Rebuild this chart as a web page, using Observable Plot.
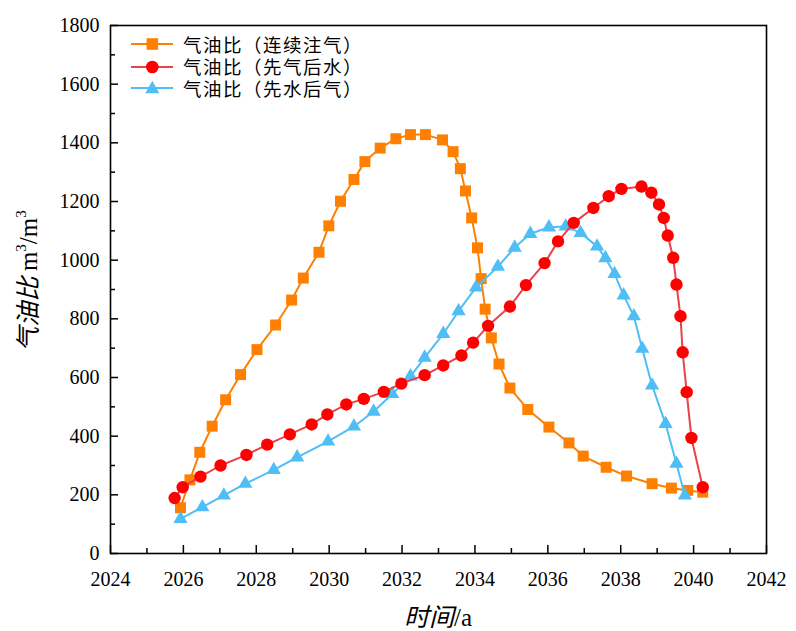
<!DOCTYPE html>
<html><head><meta charset="utf-8">
<script src="https://cdn.jsdelivr.net/npm/d3@7"></script>
<script src="https://cdn.jsdelivr.net/npm/@observablehq/plot@0.6"></script>
<style>
body{margin:0;background:#fff;}
#wrap{position:relative;width:796px;height:631px;overflow:hidden;}
.lab{position:absolute;white-space:nowrap;font-family:"Noto Sans CJK SC",sans-serif;color:#000;line-height:1;}
.lab .lat{font-family:"Liberation Serif",serif;}
.lab sup{font-size:0.6em;vertical-align:0.7em;line-height:0;}
.leg{position:absolute;left:131px;display:flex;align-items:center;height:20px;font-family:"Noto Sans CJK SC",sans-serif;font-size:18.5px;line-height:1;color:#000;white-space:nowrap;}
.leg span{letter-spacing:1.5px;line-height:1;}
.leg svg{margin-right:10px;}
</style></head><body><div id="wrap"></div>
<script>
// ---- data ----
const seriesNames = ["气油比（连续注气）", "气油比（先气后水）", "气油比（先水后气）"];
const seriesColors = ["#FF8000", "#FF0000", "#4FBEF5"];
const lineColors = ["#FF8000", "#E8424A", "#4FBEF5"];

const yearsA = [2025.92,2026.18,2026.45,2026.79,2027.16,2027.57,2028.02,2028.53,2028.97,2029.29,2029.72,2029.99,2030.31,2030.68,2030.98,2031.40,2031.83,2032.23,2032.64,2033.11,2033.40,2033.60,2033.74,2033.91,2034.07,2034.17,2034.28,2034.45,2034.66,2034.96,2035.45,2036.03,2036.58,2036.97,2037.60,2038.16,2038.86,2039.39,2039.84,2040.25];
const gorA = [156,251,345,434,524,610,695,779,864,939,1027,1117,1201,1275,1336,1382,1414,1428,1428,1410,1370,1312,1236,1144,1042,937,833,735,646,564,491,431,377,332,294,264,238,223,215,209];

const yearsB = [2025.76,2025.98,2026.47,2027.02,2027.73,2028.30,2028.92,2029.52,2029.95,2030.47,2030.95,2031.50,2031.98,2032.62,2033.13,2033.63,2033.95,2034.36,2034.96,2035.40,2035.91,2036.28,2036.71,2037.25,2037.67,2038.02,2038.57,2038.84,2039.05,2039.18,2039.29,2039.44,2039.53,2039.64,2039.70,2039.81,2039.94,2040.25];
const gorB = [189,226,262,300,336,371,406,440,474,508,527,551,579,608,641,675,719,776,842,915,990,1064,1127,1178,1218,1243,1251,1230,1190,1144,1084,1008,917,809,686,550,394,226];

const yearsC = [2025.92,2026.52,2027.11,2027.70,2028.48,2029.12,2029.97,2030.68,2031.22,2031.73,2032.23,2032.62,2033.13,2033.55,2034.03,2034.63,2035.09,2035.52,2036.03,2036.49,2036.90,2037.35,2037.58,2037.83,2038.08,2038.36,2038.59,2038.86,2039.23,2039.53,2039.76];
const gorC = [118,158,198,238,285,328,382,433,484,544,604,668,749,826,907,978,1043,1090,1112,1115,1093,1047,1007,953,880,809,698,573,442,306,198];

const xTicks = [2024,2026,2028,2030,2032,2034,2036,2038,2040,2042];
const xMinor = [2025,2027,2029,2031,2033,2035,2037,2039,2041];
const yTicks = [0,200,400,600,800,1000,1200,1400,1600,1800];
const yMinor = [100,300,500,700,900,1100,1300,1500,1700];

const rows = (xs, ys) => xs.map((x, i) => ({year: x, gor: ys[i]}));
const dataA = rows(yearsA, gorA), dataB = rows(yearsB, gorB), dataC = rows(yearsC, gorC);

const plot = Plot.plot({
  width: 796, height: 631,
  marginLeft: 110, marginRight: 30, marginTop: 25, marginBottom: 78,
  x: {domain: [2024, 2042]},
  y: {domain: [0, 1800]},
  style: {fontFamily: "'Liberation Serif', serif", fontSize: "20px", color: "black", background: "white"},
  marks: [
    Plot.axisX({ticks: xTicks, tickSize: 8, dy: -8, tickFormat: () => "", label: null, strokeWidth: 1.5}),
    Plot.axisX({ticks: xMinor, tickSize: 5, dy: -5, tickFormat: () => "", label: null, strokeWidth: 1.5}),
    Plot.axisX({ticks: xTicks, tickSize: 0, tickPadding: 18, tickFormat: d => String(d), label: null, fontSize: 20}),
    Plot.axisY({ticks: yTicks, tickSize: 8, dx: 8, tickFormat: () => "", label: null, strokeWidth: 1.5}),
    Plot.axisY({ticks: yMinor, tickSize: 5, dx: 5, tickFormat: () => "", label: null, strokeWidth: 1.5}),
    Plot.axisY({ticks: yTicks, tickSize: 0, tickPadding: 11, tickFormat: d => String(d), label: null, fontSize: 20}),
    Plot.frame({stroke: "black", strokeWidth: 1.6}),
    Plot.line(dataA, {x: "year", y: "gor", stroke: lineColors[0], strokeWidth: 2}),
    Plot.dot(dataA, {x: "year", y: "gor", symbol: "square", r: 6.2, fill: seriesColors[0], stroke: "none"}),
    Plot.line(dataC, {x: "year", y: "gor", stroke: lineColors[2], strokeWidth: 2}),
    Plot.dot(dataC, {x: "year", y: "gor", symbol: "triangle", r: 5.3, fill: seriesColors[2], stroke: "none"}),
    Plot.line(dataB, {x: "year", y: "gor", stroke: lineColors[1], strokeWidth: 2}),
    Plot.dot(dataB, {x: "year", y: "gor", symbol: "circle", r: 6.2, fill: seriesColors[1], stroke: "none"})
  ]
});
const wrap = document.getElementById("wrap");
wrap.appendChild(plot);

// axis titles
const yl = document.createElement("div");
yl.className = "lab";
yl.style.cssText = "left:27px;top:281px;font-size:25px;transform:translate(-50%,-50%) rotate(-90deg);";
yl.innerHTML = '<i>气油比</i>&nbsp;<span class="lat">m<sup>3</sup>/m<sup>3</sup></span>';
wrap.appendChild(yl);
const xl = document.createElement("div");
xl.className = "lab";
xl.style.cssText = "left:438px;top:616px;font-size:25px;transform:translate(-50%,-50%);";
xl.innerHTML = '<i>时间</i><span class="lat">/a</span>';
wrap.appendChild(xl);

// legend
const symbols = ["square", "circle", "triangle"];
const legY = [44, 66.5, 88];
seriesNames.forEach((name, i) => {
  const row = document.createElement("div");
  row.className = "leg";
  row.style.top = (legY[i] - 10) + "px";
  let mk;
  if (symbols[i] === "square") mk = `<rect x="15.5" y="4.2" width="11.6" height="11.6" fill="${seriesColors[i]}"/>`;
  else if (symbols[i] === "circle") mk = `<circle cx="21.3" cy="10" r="6.3" fill="${seriesColors[i]}"/>`;
  else mk = `<path d="M21.3,2.8 L28.3,15.3 L14.3,15.3 Z" fill="${seriesColors[i]}"/>`;
  row.innerHTML = `<svg width="42" height="20"><line x1="0" x2="42" y1="10" y2="10" stroke="${lineColors[i]}" stroke-width="2"/>${mk}</svg><span>${name}</span>`;
  wrap.appendChild(row);
});
</script>
</body></html>
